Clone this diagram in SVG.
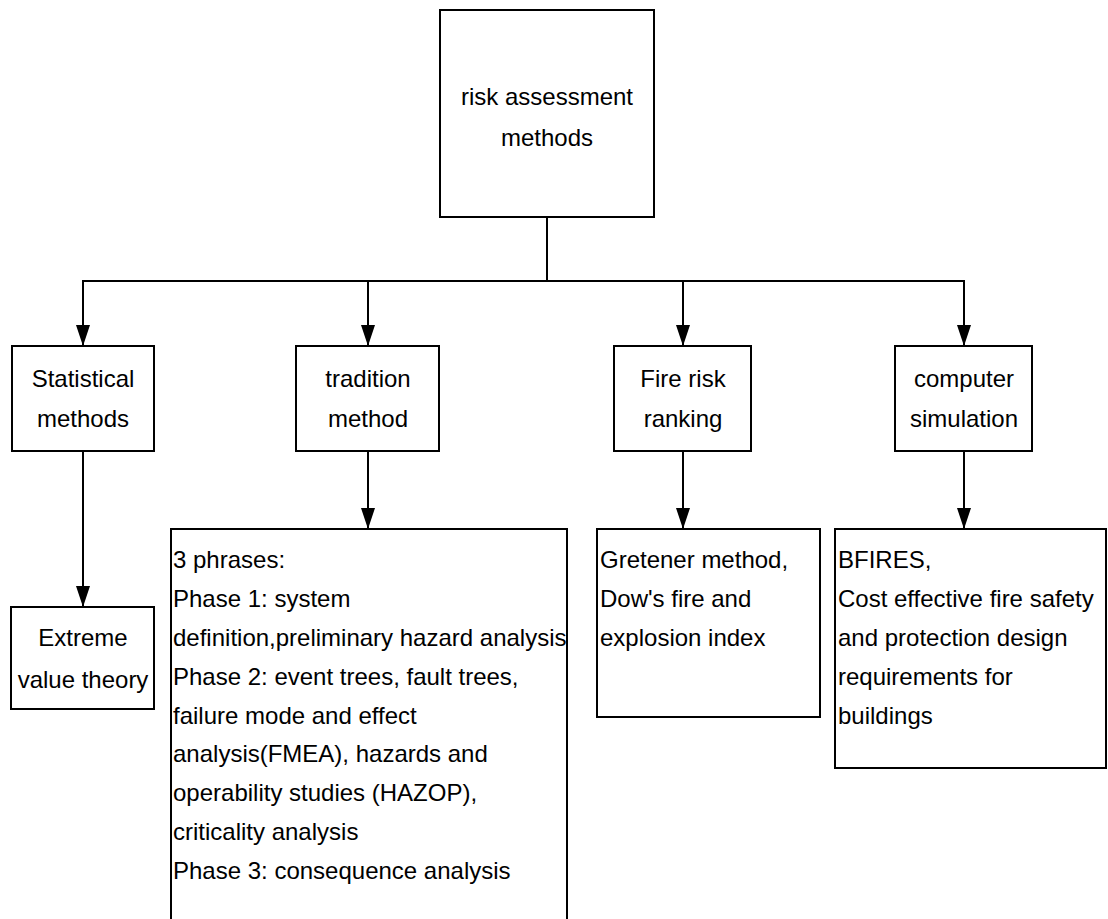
<svg xmlns="http://www.w3.org/2000/svg" width="1108" height="919" viewBox="0 0 1108 919">
<defs>
<marker id="arr" markerWidth="21" markerHeight="14" refX="21" refY="7" orient="auto" markerUnits="userSpaceOnUse" viewBox="0 0 21 14">
<path d="M0,0 L21,7 L0,14 Z" fill="#000"/>
</marker>
<style>
.box{fill:#fff;stroke:#000;stroke-width:2}
.t{font-family:"Liberation Sans",Arial,sans-serif;font-size:24px;fill:#000}
.c{text-anchor:middle}
.ln{stroke:#000;stroke-width:2;fill:none}
</style>
</defs>
<rect width="1108" height="919" fill="#fff"/>
<g id="connectors">
<line class="ln" x1="547" y1="217" x2="547" y2="281"/>
<line class="ln" x1="82" y1="281" x2="965" y2="281"/>
<line class="ln" x1="83" y1="281" x2="83" y2="346" marker-end="url(#arr)"/>
<line class="ln" x1="368" y1="281" x2="368" y2="346" marker-end="url(#arr)"/>
<line class="ln" x1="683" y1="281" x2="683" y2="346" marker-end="url(#arr)"/>
<line class="ln" x1="964" y1="281" x2="964" y2="346" marker-end="url(#arr)"/>
<line class="ln" x1="83" y1="451" x2="83" y2="607" marker-end="url(#arr)"/>
<line class="ln" x1="368" y1="451" x2="368" y2="529" marker-end="url(#arr)"/>
<line class="ln" x1="683" y1="451" x2="683" y2="529" marker-end="url(#arr)"/>
<line class="ln" x1="964" y1="451" x2="964" y2="529" marker-end="url(#arr)"/>
</g>
<g id="root">
<rect class="box" x="440" y="10" width="214" height="207"/>
<text class="t c" x="547" y="105">risk assessment</text>
<text class="t c" x="547" y="146">methods</text>
</g>
<g id="statistical">
<rect class="box" x="12" y="346" width="142" height="105"/>
<text class="t c" x="83" y="387">Statistical</text>
<text class="t c" x="83" y="427">methods</text>
</g>
<g id="tradition">
<rect class="box" x="296" y="346" width="143" height="105"/>
<text class="t c" x="368" y="387">tradition</text>
<text class="t c" x="368" y="427">method</text>
</g>
<g id="fire">
<rect class="box" x="614" y="346" width="137" height="105"/>
<text class="t c" x="683" y="387">Fire risk</text>
<text class="t c" x="683" y="427">ranking</text>
</g>
<g id="computer">
<rect class="box" x="895" y="346" width="137" height="105"/>
<text class="t c" x="964" y="387">computer</text>
<text class="t c" x="964" y="427">simulation</text>
</g>
<g id="extreme">
<rect class="box" x="11" y="607" width="143" height="102"/>
<text class="t c" x="83" y="646">Extreme</text>
<text class="t c" x="83" y="688">value theory</text>
</g>
<g id="phases">
<rect class="box" x="171" y="529" width="396" height="400"/>
<text class="t" x="173" y="568">3 phrases:</text>
<text class="t" x="173" y="607">Phase 1: system</text>
<text class="t" x="173" y="646">definition,preliminary hazard analysis</text>
<text class="t" x="173" y="685">Phase 2: event trees, fault trees,</text>
<text class="t" x="173" y="724">failure mode and effect</text>
<text class="t" x="173" y="762">analysis(FMEA), hazards and</text>
<text class="t" x="173" y="801">operability studies (HAZOP),</text>
<text class="t" x="173" y="840">criticality analysis</text>
<text class="t" x="173" y="879">Phase 3: consequence analysis</text>
</g>
<g id="gretener">
<rect class="box" x="597" y="529" width="223" height="188"/>
<text class="t" x="600" y="568">Gretener method,</text>
<text class="t" x="600" y="607">Dow's fire and</text>
<text class="t" x="600" y="646">explosion index</text>
</g>
<g id="bfires">
<rect class="box" x="835" y="529" width="271" height="239"/>
<text class="t" x="838" y="568">BFIRES,</text>
<text class="t" x="838" y="607">Cost effective fire safety</text>
<text class="t" x="838" y="646">and protection design</text>
<text class="t" x="838" y="685">requirements for</text>
<text class="t" x="838" y="724">buildings</text>
</g>
</svg>
